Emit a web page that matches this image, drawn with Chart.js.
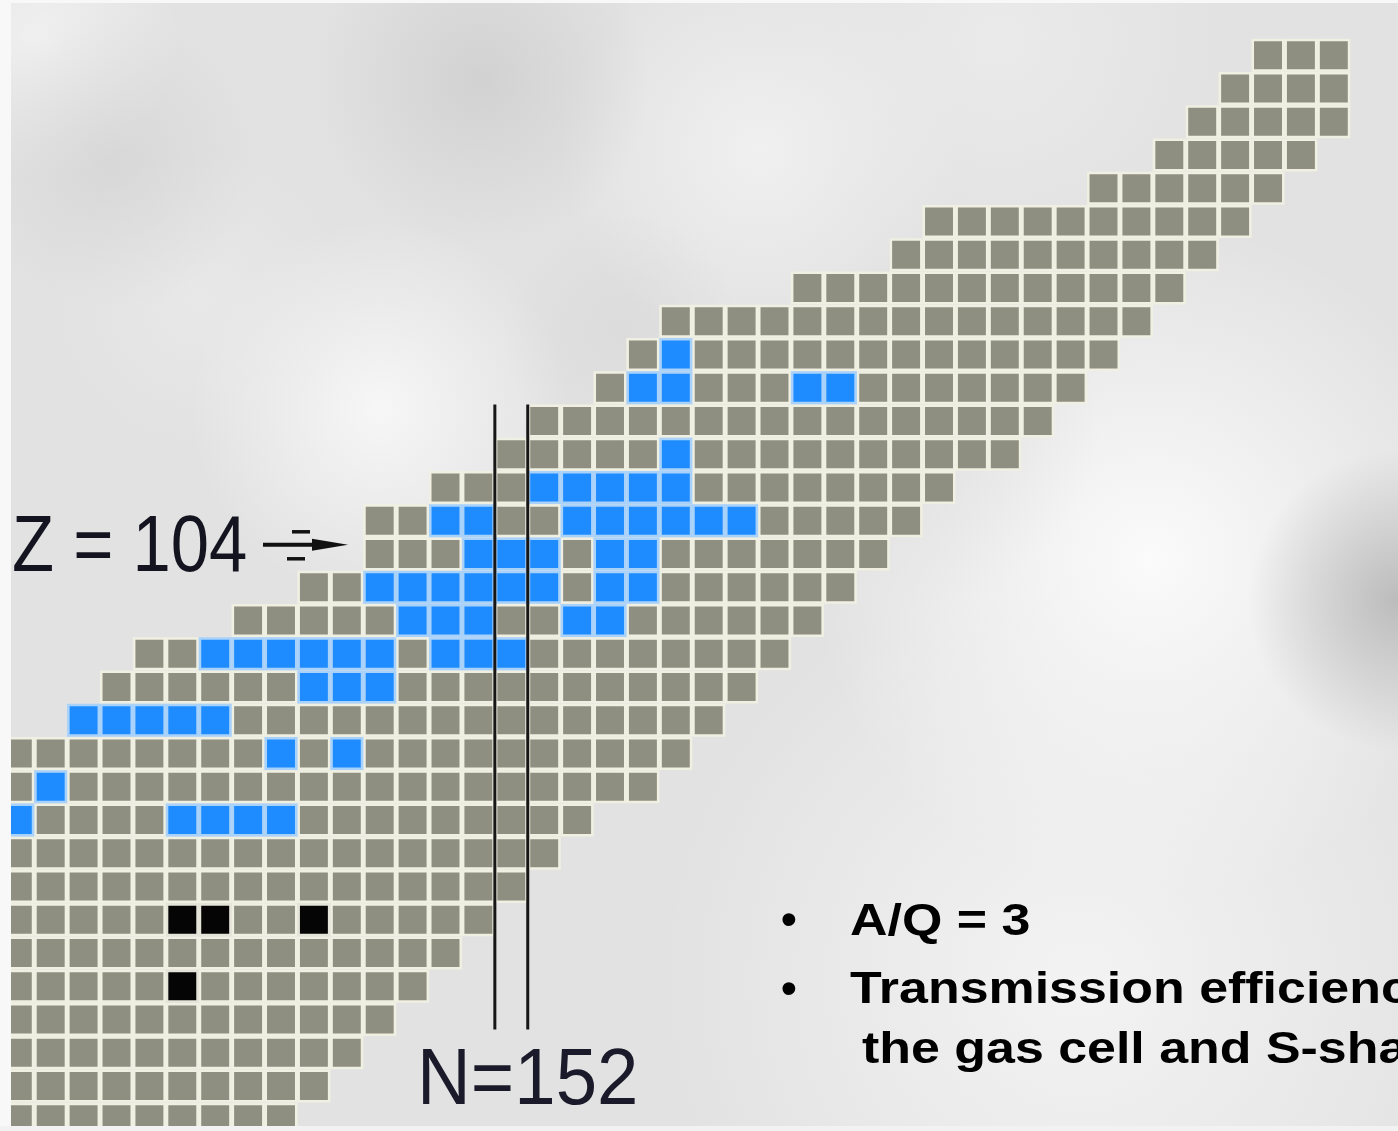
<!DOCTYPE html>
<html>
<head>
<meta charset="utf-8">
<script src="https://cdn.jsdelivr.net/npm/chart.js@4.4.1/dist/chart.umd.min.js"></script>
<style>
  html, body { margin: 0; padding: 0; background: #e4e4e4; overflow: hidden; }
  #wrap { position: relative; width: 1398px; height: 1131px; }
</style>
</head>
<body>
<div id="wrap"><canvas id="chart"></canvas></div>
<script>
// Chart of nuclides, Z = 86 ... 118, N = 137 ... 177.
// Proton number of every row, top to bottom.
const protonNumbers = [118, 117, 116, 115, 114, 113, 112, 111, 110, 109, 108, 107, 106, 105, 104, 103, 102,
                       101, 100, 99, 98, 97, 96, 95, 94, 93, 92, 91, 90, 89, 88, 87, 86];
// Lightest and heaviest neutron number shown in each row.
const firstN = [175, 174, 173, 172, 170, 165, 164, 161, 157, 156, 155, 153, 152, 150, 148, 148, 146,
                144, 141, 140, 139, 137, 137, 137, 137, 137, 137, 137, 137, 137, 137, 137, 137];
const lastN  = [177, 177, 177, 176, 175, 174, 173, 172, 171, 170, 169, 168, 167, 165, 164, 163, 162,
                161, 160, 159, 158, 157, 156, 154, 153, 152, 151, 150, 149, 148, 147, 146, 145];

// Highlighted (blue) nuclides: proton number and the neutron numbers in that row.
const blueZ = [109, 108, 106, 105, 104, 103, 102, 101, 100, 99, 98, 97, 96, 95];
const blueN = [
  [157],
  [156, 157, 161, 162],
  [157],
  [153, 154, 155, 156, 157],
  [150, 151, 154, 155, 156, 157, 158, 159],
  [151, 152, 153, 155, 156],
  [148, 149, 150, 151, 152, 153, 155, 156],
  [149, 150, 151, 154, 155],
  [143, 144, 145, 146, 147, 148, 150, 151, 152],
  [146, 147, 148],
  [139, 140, 141, 142, 143],
  [145, 147],
  [138],
  [137, 142, 143, 144, 145]
];

// Long-lived primordial nuclides (black): 234U, 235U, 238U, 232Th.
const blackZ = [92, 92, 92, 90];
const blackN = [142, 143, 146, 142];

// Shell gap marker at N = 152 (drawn on the cell boundaries either side).
const shellN = 152;
const shellZRange = [107.5, 88.7];

// Build point tables for the library.
const key = (n, z) => n + ':' + z;
const coloured = new Set();
const bluePoints = [];
blueZ.forEach((z, i) => blueN[i].forEach(n => { bluePoints.push({ x: n, y: z }); coloured.add(key(n, z)); }));
const blackPoints = blackZ.map((z, i) => { coloured.add(key(blackN[i], z)); return { x: blackN[i], y: z }; });
const greyPoints = [];
protonNumbers.forEach((z, i) => {
  for (let n = firstN[i]; n <= lastN[i]; n++) {
    if (!coloured.has(key(n, z))) greyPoints.push({ x: n, y: z });
  }
});

const CELL_RADIUS = 21.6;   // 'rect' style: side = radius * sqrt(2)

function cellSet(points, fill, edge) {
  return {
    type: 'scatter',
    data: points,
    pointStyle: 'rect',
    pointRadius: CELL_RADIUS,
    pointHoverRadius: CELL_RADIUS,
    backgroundColor: fill,
    borderColor: edge,
    borderWidth: 2.6,
    clip: false
  };
}

function shellLine(n) {
  return {
    type: 'line',
    data: [{ x: n, y: shellZRange[0] }, { x: n, y: shellZRange[1] }],
    borderColor: '#161616',
    borderWidth: 3,
    pointRadius: 0,
    showLine: true,
    order: -1
  };
}

// Soft grey backdrop behind the grid.
const backdrop = {
  id: 'backdrop',
  beforeDraw(chart) {
    const { ctx, width, height } = chart;
    ctx.save();
    ctx.fillStyle = '#e2e2e2';
    ctx.fillRect(0, 0, width, height);
    const blob = (x, y, r, rgb, a) => {
      const g = ctx.createRadialGradient(x, y, 0, x, y, r);
      g.addColorStop(0, `rgba(${rgb},${a})`);
      g.addColorStop(1, `rgba(${rgb},0)`);
      ctx.fillStyle = g;
      ctx.fillRect(x - r, y - r, 2 * r, 2 * r);
    };
    blob(1150, 560, 340, '252,252,252', 0.95);
    blob(1080, 980, 420, '246,246,246', 0.85);
    blob(380, 410, 190, '250,250,250', 0.85);
    blob(760, 150, 200, '246,246,246', 0.7);
    blob(40, 40, 140, '246,246,246', 0.7);
    blob(1000, 40, 220, '240,240,240', 0.6);
    blob(200, 300, 150, '238,238,238', 0.5);
    blob(480, 80, 170, '196,196,196', 0.55);
    blob(110, 160, 150, '205,205,205', 0.5);
    blob(620, 330, 120, '210,210,210', 0.4);
    blob(1398, 600, 150, '180,180,180', 0.85);
    blob(920, 420, 180, '214,214,214', 0.45);
    ctx.restore();
  }
};

// Labels, arrow and bullet notes.
const notes = {
  id: 'notes',
  afterDraw(chart) {
    const { ctx, width, height } = chart;
    const xs = chart.scales.x, ys = chart.scales.y;
    ctx.save();
    // light frame on the left, top and bottom edge
    ctx.fillStyle = '#f8f8f8';
    ctx.fillRect(0, 0, 11, height);
    ctx.fillRect(0, 0, width, 3);
    ctx.fillStyle = '#f2f2f2';
    ctx.fillRect(0, height - 5, width, 5);

    // "Z = 104" with arrow pointing at that row
    const zy = ys.getPixelForValue(104) + 24;
    ctx.fillStyle = '#141420';
    ctx.font = '80px "Liberation Sans", Arial, sans-serif';
    ctx.textBaseline = 'alphabetic';
    ctx.save();
    ctx.translate(12, zy + 26);
    ctx.scale(0.86, 1);
    ctx.fillText('Z = 104', 0, 0);
    ctx.restore();

    ctx.strokeStyle = '#111';
    ctx.lineCap = 'butt';
    ctx.lineWidth = 4;
    ctx.beginPath(); ctx.moveTo(263, zy); ctx.lineTo(330, zy); ctx.stroke();
    ctx.beginPath();
    ctx.moveTo(312, zy - 6); ctx.lineTo(348, zy); ctx.lineTo(312, zy + 6); ctx.closePath();
    ctx.fillStyle = '#111'; ctx.fill();
    ctx.lineWidth = 3.5;
    ctx.beginPath(); ctx.moveTo(292, zy - 13); ctx.lineTo(310, zy - 13); ctx.stroke();
    ctx.beginPath(); ctx.moveTo(287, zy + 14); ctx.lineTo(305, zy + 14); ctx.stroke();

    // "N=152" under the shell lines
    ctx.fillStyle = '#1a1a2a';
    ctx.font = '80px "Liberation Sans", Arial, sans-serif';
    ctx.save();
    ctx.translate(xs.getPixelForValue(shellN + 0.5), 1104);
    ctx.scale(0.93, 1);
    ctx.textAlign = 'center';
    ctx.fillText('N=152', 0, 0);
    ctx.restore();

    // bullet notes
    ctx.fillStyle = '#000';
    ctx.font = 'bold 45px "Liberation Sans", Arial, sans-serif';
    ctx.textAlign = 'left';
    ctx.fillText('\u2022', 781, 934);
    ctx.fillText('\u2022', 781, 1003);
    ctx.font = 'bold 44px "Liberation Sans", Arial, sans-serif';
    const line = (txt, x, y) => {
      ctx.save();
      ctx.translate(x, y);
      ctx.scale(1.18, 1);
      ctx.fillText(txt, 0, 0);
      ctx.restore();
    };
    line('A/Q = 3', 850, 935);
    line('Transmission efficiency', 850, 1003);
    line('the gas cell and S-shaped', 862, 1063);
    ctx.restore();
  }
};

new Chart(document.getElementById('chart'), {
  type: 'scatter',
  data: {
    datasets: [
      shellLine(shellN - 0.5),
      shellLine(shellN + 0.5),
      cellSet(blackPoints, '#050505', '#e4e4d8'),
      cellSet(bluePoints, '#1e8cff', '#a9d2fb'),
      cellSet(greyPoints, '#8e8e81', '#efefe2')
    ]
  },
  options: {
    responsive: true,
    maintainAspectRatio: false,
    animation: false,
    events: [],
    layout: { padding: 0, autoPadding: false },
    plugins: { legend: { display: false }, tooltip: { enabled: false } },
    scales: {
      x: { type: 'linear', display: false, min: 136.459, max: 178.951 },
      y: { type: 'linear', display: false, min: 85.648, max: 119.663 }
    }
  },
  plugins: [backdrop, notes]
});
</script>
</body>
</html>
